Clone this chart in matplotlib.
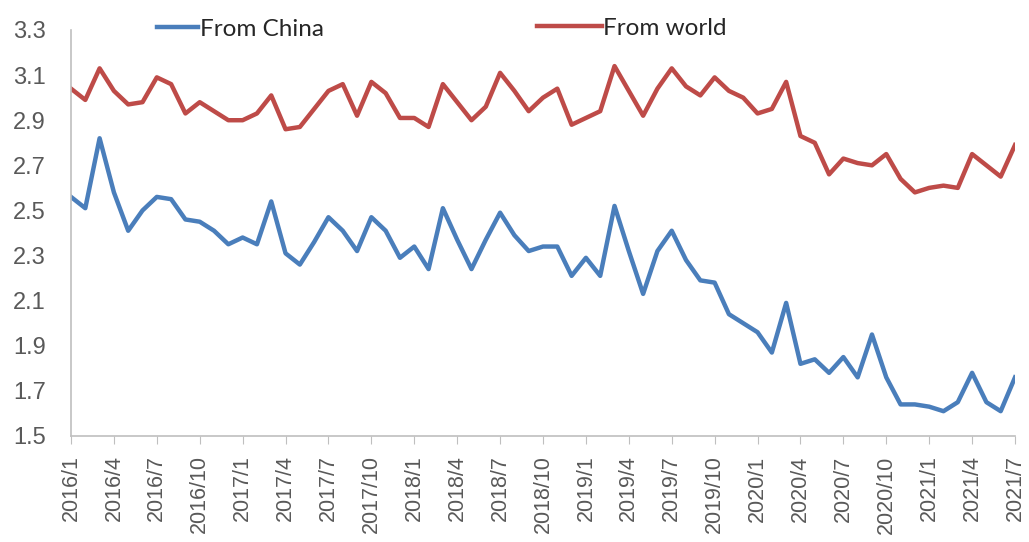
import matplotlib
matplotlib.use("Agg")
import matplotlib.pyplot as plt
import numpy as np

months = [f"{y}/{m}" for y in range(2016, 2022) for m in range(1, 13)][:67]

from_china = [2.56, 2.51, 2.82, 2.58, 2.41, 2.50, 2.56, 2.55, 2.46, 2.45,
              2.41, 2.35, 2.38, 2.35, 2.54, 2.31, 2.26, 2.36, 2.47, 2.41,
              2.32, 2.47, 2.41, 2.29, 2.34, 2.24, 2.51, 2.37, 2.24, 2.37,
              2.49, 2.39, 2.32, 2.34, 2.34, 2.21, 2.29, 2.21, 2.52, 2.32,
              2.13, 2.32, 2.41, 2.28, 2.19, 2.18, 2.04, 2.00, 1.96, 1.87,
              2.09, 1.82, 1.84, 1.78, 1.85, 1.76, 1.95, 1.76, 1.64, 1.64,
              1.63, 1.61, 1.65, 1.78, 1.65, 1.61, 1.76]

from_world = [3.04, 2.99, 3.13, 3.03, 2.97, 2.98, 3.09, 3.06, 2.93, 2.98,
              2.94, 2.90, 2.90, 2.93, 3.01, 2.86, 2.87, 2.95, 3.03, 3.06,
              2.92, 3.07, 3.02, 2.91, 2.91, 2.87, 3.06, 2.98, 2.90, 2.96,
              3.11, 3.03, 2.94, 3.00, 3.04, 2.88, 2.91, 2.94, 3.14, 3.03,
              2.92, 3.04, 3.13, 3.05, 3.01, 3.09, 3.03, 3.00, 2.93, 2.95,
              3.07, 2.83, 2.80, 2.66, 2.73, 2.71, 2.70, 2.75, 2.64, 2.58,
              2.60, 2.61, 2.60, 2.75, 2.70, 2.65, 2.79]

yticks = [1.5, 1.7, 1.9, 2.1, 2.3, 2.5, 2.7, 2.9, 3.1, 3.3]

plt.rcParams['font.family'] = ['Liberation Sans', 'DejaVu Sans']

W, H = 1029, 542
fig = plt.figure(figsize=(W / 100, H / 100), dpi=100)
ax = fig.add_axes([71 / W, 1 - 436 / H, (1015 - 71) / W, (436 - 30) / H])

x = np.arange(len(months))
l1, = ax.plot(x, from_china, color='#4A7EBB', lw=3.2, label='From China')
l2, = ax.plot(x, from_world, color='#BE4B48', lw=3.2, label='From world')

ax.set_xlim(0, len(months) - 1)
ax.set_ylim(1.5, 3.3)
ax.set_yticks(yticks)
ax.set_yticklabels([f"{v:.1f}" for v in yticks], fontsize=17, color='#595959')
ax.set_xticks(x[::3])
ax.set_xticklabels(months[::3], rotation=90, fontsize=15.5, color='#595959')
ax.tick_params(axis='y', length=0, pad=18)
ax.tick_params(axis='x', length=6, color='#BFBFBF', pad=8)

for s in ['top', 'right']:
    ax.spines[s].set_visible(False)
for s in ['left', 'bottom']:
    ax.spines[s].set_color('#BFBFBF')
    ax.spines[s].set_linewidth(1.2)

fs = 17.5
em = fs * 100 / 72
leg1 = ax.legend(handles=[l1], loc='center left', frameon=False,
                 bbox_to_anchor=(157 / W, 1 - 29 / H), bbox_transform=fig.transFigure,
                 borderpad=0, borderaxespad=0, handlelength=41 / em,
                 handletextpad=0.08, labelcolor='#262626', prop={'family': 'Lato', 'size': fs})
ax.add_artist(leg1)
leg2 = ax.legend(handles=[l2], loc='center left', frameon=False,
                 bbox_to_anchor=(537 / W, 1 - 28 / H), bbox_transform=fig.transFigure,
                 borderpad=0, borderaxespad=0, handlelength=65 / em,
                 handletextpad=0.05, labelcolor='#262626', prop={'family': 'Lato', 'size': fs})

fig.savefig('out.png', dpi=100)
